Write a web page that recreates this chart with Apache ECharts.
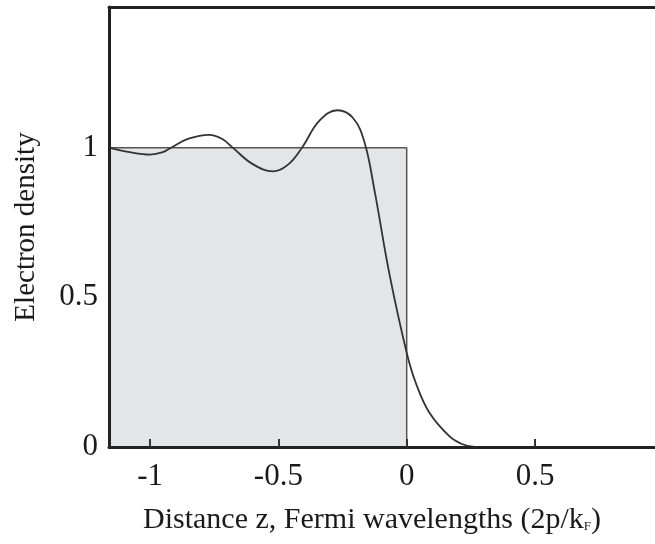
<!DOCTYPE html>
<html>
<head>
<meta charset="utf-8">
<script src="https://cdn.jsdelivr.net/npm/echarts@6/dist/echarts.min.js"></script>
<style>html,body{margin:0;padding:0;background:#fff;}#c{width:655px;height:544px;}</style>
</head>
<body>
<div id="c"></div>
<script>
// Electron density profile (Friedel oscillations) vs distance z
var curveZ = [-1.16, -1.08, -1.0, -0.95, -0.918, -0.85, -0.77, -0.72, -0.678, -0.6, -0.52, -0.46, -0.408, -0.34, -0.27, -0.21, -0.165, -0.126, -0.068, 0.0, 0.036, 0.088, 0.166, 0.215, 0.265, 0.3];
var curveN = [1.0, 0.985, 0.977, 0.985, 1.0, 1.03, 1.043, 1.03, 1.0, 0.945, 0.921, 0.945, 1.0, 1.09, 1.125, 1.1, 1.02, 0.86, 0.581, 0.315, 0.213, 0.115, 0.036, 0.01, 0.0, 0.0];
// Jellium step (positive background)
var stepZ = [-1.16, 0, 0];
var stepN = [1, 1, 0];
var xTicks = [-1, -0.5, 0, 0.5, 1];
var yTicks = [0, 0.5, 1];

function pairs(a, b) { return a.map(function (v, i) { return [v, b[i]]; }); }

var font = '"Liberation Serif", "DejaVu Serif", serif';
var chart = echarts.init(document.getElementById('c'));
chart.setOption({
  animation: false,
  backgroundColor: '#ffffff',
  grid: { left: 109, top: 7, width: 580, bottom: 97, outerBoundsMode: 'none', containLabel: false },
  xAxis: [{
    type: 'value', min: -1.16, max: 1.1, z: 10,
    axisLine: { show: true, onZero: false, lineStyle: { color: '#222', width: 3 } },
    axisTick: { show: true, inside: true, length: 8, customValues: xTicks, lineStyle: { color: '#333', width: 2 } },
    axisLabel: { customValues: xTicks, margin: 14, fontFamily: font, fontSize: 31, color: '#1a1a1a' },
    splitLine: { show: false },
    name: 'Distance z, Fermi wavelengths (2p/k{sub|F})',
    nameLocation: 'middle', nameGap: 58,
    nameTextStyle: {
      fontFamily: font, fontSize: 30, color: '#1a1a1a', padding: [0, 54, 0, 0],
      rich: { sub: { fontFamily: font, fontSize: 13, color: '#1a1a1a', padding: [14, 0, 0, 0] } }
    }
  }, {
    type: 'value', position: 'top', min: -1.16, max: 1.1, z: 10,
    axisLine: { show: true, onZero: false, lineStyle: { color: '#222', width: 3 } },
    axisTick: { show: false }, axisLabel: { show: false }, splitLine: { show: false }
  }],
  yAxis: {
    type: 'value', min: 0, max: 1.47, z: 10,
    axisLine: { show: true, onZero: false, lineStyle: { color: '#222', width: 3 } },
    axisTick: { show: false },
    axisLabel: { customValues: yTicks, margin: 11, fontFamily: font, fontSize: 31, color: '#1a1a1a' },
    splitLine: { show: false },
    name: 'Electron density', nameLocation: 'middle', nameGap: 68,
    nameTextStyle: { fontFamily: font, fontSize: 29, color: '#1a1a1a' }
  },
  series: [{
    type: 'line', data: pairs(stepZ, stepN), showSymbol: false, z: 2,
    lineStyle: { color: '#555', width: 1.5 },
    areaStyle: { color: '#e4e5e7', opacity: 1 }
  }, {
    type: 'line', data: pairs(curveZ, curveN), smooth: 0.4, showSymbol: false, z: 3,
    lineStyle: { color: '#333', width: 1.8 }
  }]
});
</script>
</body>
</html>
